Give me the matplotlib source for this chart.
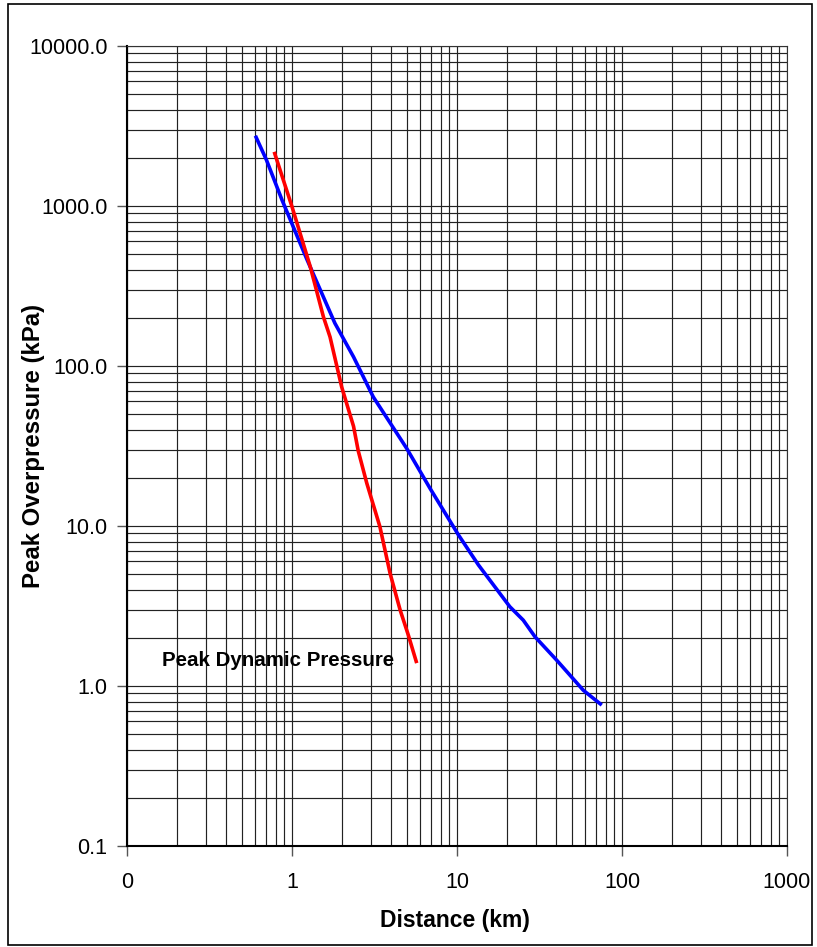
import matplotlib
matplotlib.use("Agg")
import matplotlib.pyplot as plt
from matplotlib.patches import Rectangle
from matplotlib.ticker import FixedLocator, LogLocator, NullFormatter

plt.rcParams['font.family'] = ['Liberation Sans', 'DejaVu Sans']

# Peak overpressure (blue)
over_x = [0.60, 0.70, 0.87, 1.23, 1.82, 2.36, 3.11, 4.96, 6.86, 10.2, 13.5, 20.9, 25.2, 29.7, 40.2, 58.3, 75.4]
over_y = [2750, 1940, 1090, 465, 185, 114, 64, 30.5, 17.2, 8.8, 5.7, 3.13, 2.58, 2.03, 1.45, 0.94, 0.76]

# Peak dynamic pressure (red)
dyn_x = [0.78, 1.0, 1.29, 1.55, 1.70, 2.0, 2.36, 2.52, 2.84, 3.41, 3.93, 4.52, 5.07, 5.70]
dyn_y = [2180, 990, 418, 203, 152, 74, 42, 29.5, 18.5, 9.9, 5.06, 2.99, 2.08, 1.39]

x_ticks = [0.1, 1, 10, 100, 1000]
x_labels = ["0", "1", "10", "100", "1000"]
y_ticks = [0.1, 1, 10, 100, 1000, 10000]
y_labels = ["0.1", "1.0", "10.0", "100.0", "1000.0", "10000.0"]

fig = plt.figure(figsize=(8.17, 9.47), dpi=100)
ax = fig.add_axes([127/817, 1-846/947, 660/817, 800/947])
ax.set_xscale('log')
ax.set_yscale('log')
ax.set_xlim(0.1, 1000)
ax.set_ylim(0.1, 10000)

ax.xaxis.set_major_locator(FixedLocator(x_ticks))
ax.set_xticklabels(x_labels)
ax.yaxis.set_major_locator(FixedLocator(y_ticks))
ax.set_yticklabels(y_labels)
ax.xaxis.set_minor_locator(LogLocator(base=10, subs=range(2, 10), numticks=20))
ax.yaxis.set_minor_locator(LogLocator(base=10, subs=range(2, 10), numticks=20))
ax.xaxis.set_minor_formatter(NullFormatter())
ax.yaxis.set_minor_formatter(NullFormatter())

ax.grid(True, which='both', color='#222222', linewidth=0.85)
ax.set_axisbelow(True)

ax.tick_params(which='major', direction='out', length=7, width=1, color='#555555',
               labelsize=15.5, pad=7)
ax.tick_params(axis='x', which='major', pad=12)
ax.tick_params(which='minor', length=0)

for s in ['top', 'right']:
    ax.spines[s].set_color('#333333')
    ax.spines[s].set_linewidth(0.8)
for s in ['left', 'bottom']:
    ax.spines[s].set_color('black')
    ax.spines[s].set_linewidth(1.5)

ax.plot(over_x, over_y, color='#0000ff', linewidth=2.6, solid_capstyle='butt', zorder=3)
ax.plot(dyn_x, dyn_y, color='#ff0000', linewidth=2.6, solid_capstyle='butt', zorder=3)

ax.text(0.164, 1.33, "Peak Dynamic Pressure", fontsize=14.8, fontweight='bold',
        ha='left', va='baseline', zorder=4)

ax.set_xlabel("Distance (km)", fontsize=16.5, fontweight='bold')
ax.xaxis.set_label_coords(0.497, -(920 - 846) / 800, transform=ax.transAxes)
ax.xaxis.label.set_va('center')
ax.set_ylabel("Peak Overpressure (kPa)", fontsize=17.3, fontweight='bold')
ax.yaxis.set_label_coords(-(127 - 33) / 660, 0.5, transform=ax.transAxes)
ax.yaxis.label.set_va('center')

fig.patches.append(Rectangle((8/817, 1-945/947), 804/817, 941/947,
                             transform=fig.transFigure, fill=False,
                             edgecolor='black', linewidth=1.2))

fig.savefig("out.png", dpi=100)
